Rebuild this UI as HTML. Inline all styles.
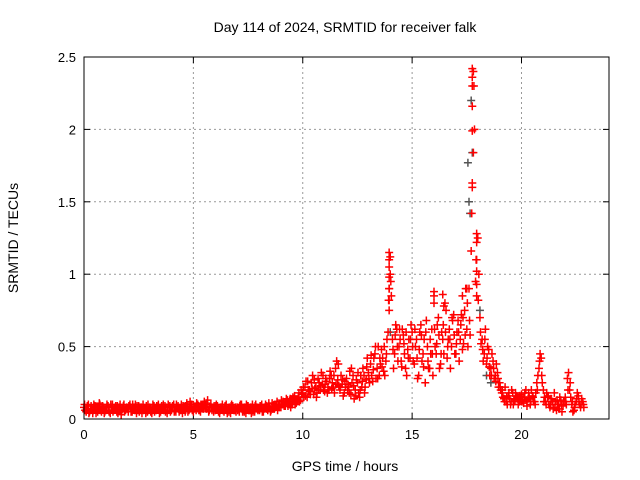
<!DOCTYPE html>
<html><head><meta charset="utf-8"><style>
body{margin:0;background:#fff}
svg{display:block;font-family:"Liberation Sans",sans-serif}
</style></head><body>
<svg id="chart" width="640" height="480">
<rect width="640" height="480" fill="#fff"/>
<text x="345" y="32" text-anchor="middle" font-size="14">Day 114 of 2024, SRMTID for receiver falk</text>
<text x="345" y="471" text-anchor="middle" font-size="14">GPS time / hours</text>
<text transform="translate(18,238) rotate(-90)" text-anchor="middle" font-size="14">SRMTID / TECUs</text>
<g id="grid"></g><g id="axes"></g><g id="marks"></g>
<rect x="84" y="57" width="525" height="362" fill="none" stroke="#000" stroke-width="1"/>
</svg>
<script>
const xTicks=[0,5,10,15,20];
const yTicks=[0,0.5,1,1.5,2,2.5];
const yTickLabels=["0","0.5","1","1.5","2","2.5"];
const seriesA=[.08,.05,.1,.06,.04,.09,.07,.11,.05,.08,.06,.09,.04,.1,.07,.05,.08,.03,.09,.06,.07,.1,.05,.08,.04,.09,.06,.1,.07,.05,.08,.04,.09,.06,.1,.05,.07,.09,.04,.08,.06,.1,.05,.09,.07,.04,.08,.11,.06,.09,.05,.08,.1,.06,.09,.12,.07,.05,.1,.08,.06,.09,.04,.08,.05,.1,.07,.04,.09,.06,.08,.05,.1,.07,.04,.09,.06,.1,.05,.08,.07,.09,.05,.1,.06,.08,.11,.07,.1,.09,
.08,.12,.09,.13,.1,.12,.14,.11,.15,.13,
.18,.22,.15,.2,.25,.17,.22,.28,.2,.24,
.19,.26,.2,.3,.22,.35,.27,.2,.24,.18,
.28,.22,.17,.3,.2,.25,.15,.22,.3,.27,
.32,.38,.26,.45,.35,.3,.48,.33,.4,.6,
1.12,.55,.45,.62,.5,.4,.58,.35,.48,.42,
.6,.38,.55,.3,.65,.45,.25,.5,.35,.62,
.85,.45,.7,.38,.55,.8,.42,.62,.5,.72,
.45,.68,.55,.48,.75,.62,.9,1.16,2.4,.95,
1.25,.7,.55,.45,.38,.48,.35,.4,.3,.32,
.25,.18,.14,.12,.16,.1,.18,.13,.15,.12,
.17,.11,.2,.14,.1,.16,.12,.25,.35,.42,
.2,.12,.15,.08,.12,.18,.06,.1,.13,.09,
.15,.28,.2,.1,.06,.12,.16,.08,.12];
const seriesB=[.06,.09,.05,.07,.1,.04,.08,.06,.09,.05,.1,.05,.08,.06,.09,.04,.1,.07,.05,.08,.09,.05,.07,.1,.06,.08,.04,.07,.09,.06,.05,.1,.07,.08,.04,.09,.06,.08,.1,.05,.09,.06,.08,.05,.1,.07,.09,.05,.12,.06,.08,.11,.06,.1,.07,.09,.13,.08,.06,.09,.1,.05,.08,.06,.09,.04,.08,.1,.06,.05,.07,.1,.05,.08,.09,.06,.04,.07,.1,.06,.09,.05,.08,.07,.11,.06,.09,.08,.06,.1,
.1,.09,.14,.11,.08,.15,.1,.13,.12,.17,
.15,.26,.2,.17,.3,.21,.18,.25,.32,.2,
.28,.22,.33,.25,.18,.4,.23,.3,.16,.22,
.2,.33,.25,.14,.27,.18,.3,.35,.22,.42,
.25,.3,.42,.28,.5,.38,.42,.3,.55,.9,
.85,.35,.65,.4,.55,.62,.45,.3,.55,.65,
.4,.5,.28,.6,.4,.55,.68,.35,.45,.3,
.5,.65,.35,.6,.45,.75,.55,.35,.68,.45,
.6,.4,.72,.52,.9,.5,.58,1.6,2.0,.85,
1.0,.52,.4,.62,.5,.3,.45,.28,.38,.22,
.2,.15,.22,.1,.14,.2,.12,.16,.1,.15,
.13,.18,.09,.15,.2,.12,.18,.3,.45,.25,
.15,.18,.1,.14,.07,.12,.1,.15,.05,.12,
.1,.32,.15,.05,.1,.18,.1,.14,.08];
const seriesC=[.1,.07,.04,.09,.06,.08,.05,.1,.07,.04,.08,.06,.1,.05,.08,.09,.06,.05,.1,.07,.05,.08,.1,.06,.09,.05,.08,.06,.04,.1,.07,.06,.05,.09,.07,.08,.1,.05,.06,.09,.08,.05,.1,.07,.06,.09,.05,.08,.07,.1,.07,.06,.09,.05,.1,.08,.11,.06,.08,.05,.09,.07,.06,.1,.08,.06,.05,.09,.07,.08,.06,.09,.07,.05,.1,.06,.08,.05,.09,.07,.06,.1,.07,.09,.08,.05,.07,.1,.12,.08,
.13,.1,.11,.09,.14,.1,.16,.12,.18,.2,
.22,.16,.26,.19,.21,.27,.15,.2,.23,.3,
.24,.18,.28,.21,.3,.24,.38,.22,.27,.26,
.24,.18,.35,.23,.16,.32,.2,.26,.18,.36,
.28,.44,.34,.5,.28,.42,.36,.5,.45,.82,
.95,.48,.58,.5,.62,.36,.52,.6,.42,.55,
.5,.62,.42,.48,.58,.36,.6,.4,.55,.45,
.62,.52,.58,.45,.65,.6,.5,.55,.7,.58,
.52,.6,.65,.7,.58,.8,.68,1.42,2.3,1.1,
.82,.6,.48,.55,.42,.36,.3,.35,.26,.28,
.22,.2,.12,.15,.18,.12,.1,.18,.14,.16,
.12,.15,.13,.18,.12,.15,.1,.2,.4,.3,
.12,.1,.16,.1,.12,.08,.13,.07,.1,.12,
.12,.2,.25,.12,.08,.14,.12,.1,.1];
const spikeHours=[13.95,13.95,13.95,13.95,13.95,13.95,13.95,14.0,17.75,17.75,17.75,17.75,17.75,17.75,17.8,17.95,17.95,17.95,17.95,17.95,16.0,16.0,16.4,16.45,17.3,17.5];
const spikeValues=[1.15,1.1,1.05,.98,.9,.82,.75,1.0,2.42,2.36,2.3,2.16,1.99,1.63,1.84,1.28,1.22,1.1,1.02,.93,.88,.8,.86,.78,.85,.9];
const greyHours=[17.55,17.6,17.65,17.7,17.75,14.0,18.1,18.4,18.6];
const greyValues=[1.77,1.5,1.42,2.2,1.84,0.6,0.75,0.3,0.25];
const stepHours=0.1;
const NS="http://www.w3.org/2000/svg";
const X0=84,X1=609,Y0=419,Y1=57,XMAX=24,YMAX=2.5;
function xs(h){return X0+h/XMAX*(X1-X0);}
function ys(v){return Y0-v/YMAX*(Y0-Y1);}
function mk(tag,attrs,parent){const e=document.createElementNS(NS,tag);for(const k in attrs)e.setAttribute(k,attrs[k]);parent.appendChild(e);return e;}
const grid=document.getElementById('grid'),axes=document.getElementById('axes'),marks=document.getElementById('marks');
xTicks.forEach(t=>{const x=xs(t);
 if(t>0){const g=mk('line',{x1:x,x2:x,y1:Y1,y2:Y0,stroke:'#999','stroke-dasharray':'2,3'},grid);
 
 }
 mk('line',{x1:x,x2:x,y1:Y0,y2:Y0-6,stroke:'#000'},axes);
 mk('line',{x1:x,x2:x,y1:Y1,y2:Y1+6,stroke:'#000'},axes);
 const l=mk('text',{x:x,y:Y0+20,'text-anchor':'middle','font-size':'13'},axes);l.textContent=t;
 
 });
yTicks.forEach((t,i)=>{const y=ys(t);
 if(t>0&&t<YMAX){const g=mk('line',{x1:X0,x2:X1,y1:y,y2:y,stroke:'#999','stroke-dasharray':'2,3'},grid);
 
 }
 mk('line',{x1:X0,x2:X0+6,y1:y,y2:y,stroke:'#000'},axes);
 mk('line',{x1:X1,x2:X1-6,y1:y,y2:y,stroke:'#000'},axes);
 const l=mk('text',{x:X0-8,y:y+5,'text-anchor':'end','font-size':'13'},axes);l.textContent=yTickLabels[i];
 
 });
function plus(h,v,color,name){const x=xs(h),y=ys(v);
 const p=mk('path',{d:`M${x-4},${y}h8M${x},${y-4}v8`,stroke:color,'stroke-width':'1.5',fill:'none'},marks);
 
 }
greyHours.forEach((h,i)=>plus(h,greyValues[i],'#555','grey-point'));
seriesA.forEach((v,i)=>plus(i*stepHours,v,'#f00','srmtid-point'));
seriesB.forEach((v,i)=>plus(i*stepHours+stepHours/2,v,'#f00','srmtid-point'));
seriesC.forEach((v,i)=>plus(i*stepHours+stepHours/4,v,'#f00','srmtid-point'));
spikeHours.forEach((h,i)=>plus(h,spikeValues[i],'#f00','srmtid-point'));
</script>
</body></html>
